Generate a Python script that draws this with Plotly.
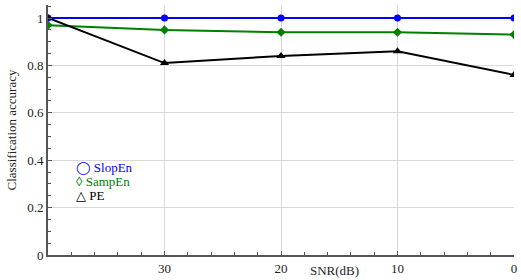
import plotly.graph_objects as go

snr = [40, 30, 20, 10, 0]
slopen = [1.0, 1.0, 1.0, 1.0, 1.0]
sampen = [0.97, 0.95, 0.94, 0.94, 0.93]
pe = [1.0, 0.81, 0.84, 0.86, 0.76]
series = [
    ("SlopEn", slopen, "#0000ff", "circle", "◯"),
    ("SampEn", sampen, "#008000", "diamond", "◊"),
    ("PE", pe, "#000000", "triangle-up", "△"),
]
x_ticks = [30, 20, 10, 0]
y_ticks = [0, 0.2, 0.4, 0.6, 0.8, 1]

fig = go.Figure()
for name, vals, color, sym, _ in series:
    fig.add_trace(go.Scatter(
        x=snr, y=vals, mode="lines+markers", name=name,
        line=dict(color=color, width=2),
        marker=dict(symbol=sym, size=8 if sym == "triangle-up" else 7, color=color),
        cliponaxis=True, showlegend=False,
    ))

font = "Liberation Serif, DejaVu Serif, serif"
for i, (name, vals, color, sym, glyph) in enumerate(series):
    fig.add_annotation(
        xref="paper", yref="paper", x=0.055, y=0.35 - i * 0.056,
        xanchor="left", yanchor="middle", showarrow=False,
        text=f"{glyph} {name}", font=dict(family=font, size=13, color=color),
    )

fig.add_annotation(
    xref="paper", yref="paper", x=0.615, y=-0.025, xanchor="center", yanchor="top",
    showarrow=False, text="SNR(dB)", font=dict(family=font, size=13, color="#222"),
)

fig.update_layout(
    width=521, height=280,
    margin=dict(l=48, r=4, t=5, b=24),
    paper_bgcolor="white", plot_bgcolor="white",
    font=dict(family=font, size=13, color="#222"),
)
fig.update_xaxes(
    range=[40, 0], tickvals=x_ticks, ticks="inside", ticklen=4, tickcolor="#555",
    showgrid=True, gridcolor="#d9d9d9", gridwidth=1,
    showline=True, linecolor="#555", linewidth=2, zeroline=False,
    minor=dict(dtick=2, ticks="inside", ticklen=3, tickcolor="#555", showgrid=False),
    tickfont=dict(family=font, size=13),
)
fig.update_yaxes(
    range=[0, 1.055], tickvals=y_ticks, ticktext=["0", "0.2", "0.4", "0.6", "0.8", "1"],
    ticks="inside", ticklen=4, tickcolor="#555",
    showgrid=True, gridcolor="#d9d9d9", gridwidth=1,
    showline=True, linecolor="#555", linewidth=2, zeroline=False,
    minor=dict(dtick=0.05, ticks="inside", ticklen=3, tickcolor="#555", showgrid=False),
    title=dict(text="Classification accuracy", font=dict(family=font, size=13), standoff=8),
    tickfont=dict(family=font, size=13),
)

fig.write_html("out.html", config={"displayModeBar": False},
               post_script="document.body.style.margin='0';")
